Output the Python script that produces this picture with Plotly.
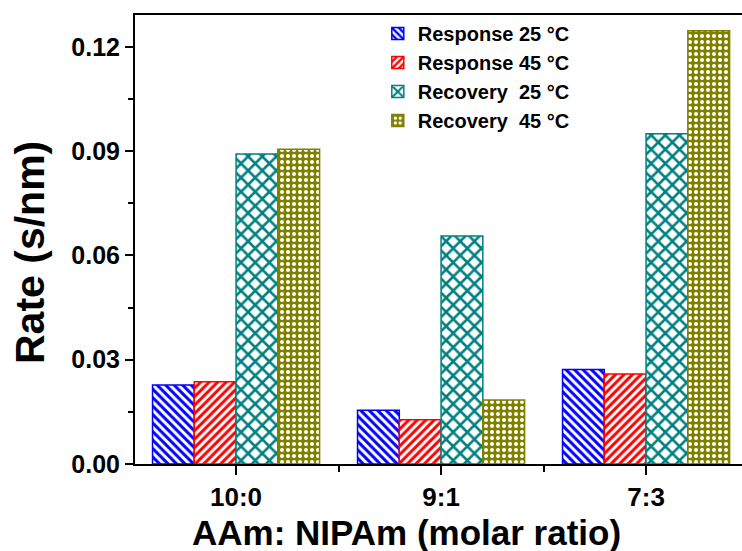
import plotly.graph_objects as go

categories = ["10:0", "9:1", "7:3"]
series_names = ["Response 25 °C", "Response 45 °C", "Recovery\u00a0\u00a025 °C", "Recovery\u00a0\u00a045 °C"]
response_25 = [0.0227, 0.0155, 0.0272]
response_45 = [0.0237, 0.0127, 0.0259]
recovery_25 = [0.0892, 0.0656, 0.0950]
recovery_45 = [0.0906, 0.0184, 0.1247]
y_ticks = [0.00, 0.03, 0.06, 0.09, 0.12]
y_minor = [0.015, 0.045, 0.075, 0.105]
x_title = "AAm: NIPAm (molar ratio)"
y_title = "Rate (s/nm)"

FONT = "Liberation Sans, Arial, Helvetica, sans-serif"
xpos = list(range(len(categories)))
x_minor = [i + 0.5 for i in xpos[:-1]]

styles = [
    dict(color="#0000FF", shape="\\", fg="#0000FF", bg="#FFFFFF", size=6, sol=0.5),
    dict(color="#FF0000", shape="/", fg="#FF0000", bg="#FFFFFF", size=6, sol=0.5),
    dict(color="#008080", shape="x", fg="#008080", bg="#FFFFFF", size=10, sol=0.45),
    dict(color="#808000", shape=".", fg="#FFFFFF", bg="#808000", size=6, sol=0.35),
]
values = [response_25, response_45, recovery_25, recovery_45]

fig = go.Figure()
for name, vals, st in zip(series_names, values, styles):
    fig.add_trace(go.Bar(
        x=xpos, y=vals, name=name,
        marker=dict(
            color=st["bg"],
            line=dict(color=st["color"], width=1.5),
            pattern=dict(shape=st["shape"], fgcolor=st["fg"], bgcolor=st["bg"],
                         size=st["size"], solidity=st["sol"], fillmode="replace"),
        ),
    ))

fig.update_layout(
    width=742, height=551,
    margin=dict(l=135, r=0, t=15, b=87),
    paper_bgcolor="white", plot_bgcolor="white",
    barmode="group", bargap=0.185, bargroupgap=0,
    font=dict(family=FONT, color="black", weight="bold"),
    showlegend=True,
    legend=dict(x=0.40, y=1.002, xanchor="left", yanchor="top",
                font=dict(size=20, family=FONT, color="black", weight="bold"),
                bgcolor="rgba(0,0,0,0)", tracegroupgap=0, itemwidth=30),
    annotations=[
        dict(text=x_title, xref="paper", yref="paper", x=(406 - 135) / 607, y=-(511 - 464) / 449,
             xanchor="center", yanchor="top", showarrow=False,
             font=dict(size=35, family=FONT, color="black", weight="bold")),
        dict(text=y_title, xref="paper", yref="paper", x=(30 - 135) / 607, y=(464 - 252) / 449,
             xanchor="center", yanchor="middle", textangle=-90, showarrow=False,
             font=dict(size=41, family=FONT, color="black", weight="bold")),
    ],
)
fig.update_xaxes(
    range=[-0.493, 2.468], tickmode="array", tickvals=xpos, ticktext=categories,
    showline=True, linecolor="black", linewidth=2, mirror=True,
    ticks="outside", ticklen=9, tickwidth=2, tickcolor="black",
    tickfont=dict(size=26, family=FONT, color="black", weight="bold"),
    minor=dict(tickmode="array", tickvals=x_minor, ticks="outside", ticklen=6, tickwidth=2, tickcolor="black"),
    showgrid=False, zeroline=False,
)
fig.update_yaxes(
    range=[0, 0.1292], tickmode="array", tickvals=y_ticks,
    ticktext=[f"{v:.2f}" for v in y_ticks],
    showline=True, linecolor="black", linewidth=2, mirror=False,
    ticks="outside", ticklen=8, tickwidth=2, tickcolor="black",
    tickfont=dict(size=25, family=FONT, color="black", weight="bold"),
    minor=dict(tickmode="array", tickvals=y_minor, ticks="outside", ticklen=5, tickwidth=2, tickcolor="black"),
    showgrid=False, zeroline=False,
)

fig.write_html("out.html")
